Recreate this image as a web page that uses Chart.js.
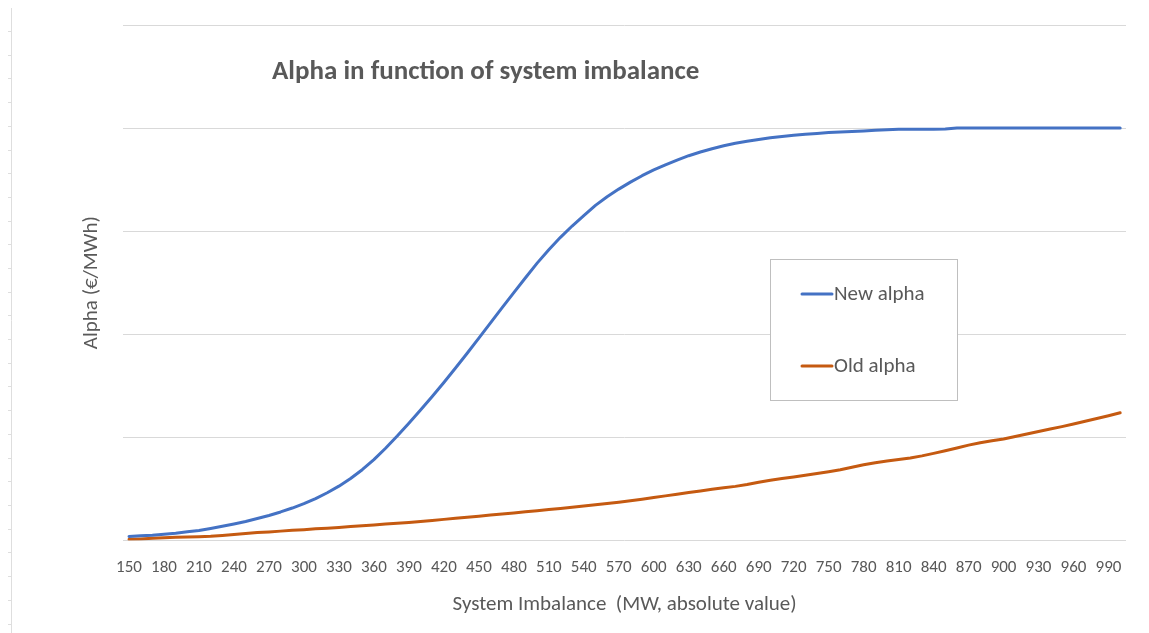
<!DOCTYPE html>
<html>
<head>
<meta charset="utf-8">
<script src="https://cdn.jsdelivr.net/npm/chart.js@4/dist/chart.umd.min.js"></script>
<style>
  html, body { margin: 0; padding: 0; background: #ffffff; }
  canvas { display: block; }
</style>
</head>
<body>
<canvas id="c" width="1149" height="633"></canvas>
<script>
// ---- data ----
const categories = [150,160,170,180,190,200,210,220,230,240,250,260,270,280,290,300,310,320,330,340,
  350,360,370,380,390,400,410,420,430,440,450,460,470,480,490,500,510,520,530,540,
  550,560,570,580,590,600,610,620,630,640,650,660,670,680,690,700,710,720,730,740,
  750,760,770,780,790,800,810,820,830,840,850,860,870,880,890,900,910,920,930,940,
  950,960,970,980,990,1000];

const tickLabels = [150,180,210,240,270,300,330,360,390,420,450,480,510,540,570,600,630,660,690,720,
  750,780,810,840,870,900,930,960,990];

const newAlpha = [1.9,2.2,2.5,3.0,3.5,4.2,4.8,5.8,6.9,8.0,9.2,10.6,12.1,13.8,15.7,17.8,20.3,23.1,26.3,30.0,
  34.3,39.2,44.7,50.6,56.8,63.2,69.8,76.6,83.6,90.8,98.1,105.5,112.9,120.2,127.4,134.5,141.0,147.0,152.5,157.5,
  162.5,166.7,170.4,173.8,176.9,179.7,182.2,184.5,186.6,188.4,190.0,191.4,192.6,193.6,194.5,195.3,195.9,196.5,197.0,197.4,
  197.8,198.1,198.4,198.6,198.9,199.2,199.4,199.4,199.4,199.4,199.5,200,200,200,200,200,200,200,200,200,
  200,200,200,200,200,200];

const oldAlpha = [0.5,0.7,1.0,1.3,1.5,1.6,1.8,2.0,2.4,2.9,3.4,3.8,4.1,4.5,4.9,5.2,5.6,5.9,6.3,6.7,
  7.1,7.5,7.9,8.3,8.7,9.2,9.7,10.2,10.7,11.2,11.7,12.3,12.8,13.3,13.9,14.4,15.0,15.5,16.1,16.7,
  17.3,17.9,18.5,19.2,20.0,20.8,21.6,22.4,23.2,24.0,24.8,25.5,26.2,27.1,28.2,29.2,30.0,30.8,31.6,32.4,
  33.3,34.3,35.5,36.7,37.7,38.5,39.2,40.0,41.0,42.2,43.5,44.8,46.2,47.4,48.3,49.2,50.4,51.6,52.8,54.0,
  55.2,56.5,57.8,59.1,60.5,61.9];

const seriesNames = ['New alpha', 'Old alpha'];
const chartTitle = 'Alpha in function of system imbalance';
const xTitle = 'System Imbalance  (MW, absolute value)';
const yTitle = 'Alpha (\u20AC/MWh)';

// ---- styling ----
const FONT = 'Carlito, Calibri, Lato, sans-serif';
const TEXT = '#595959';
const GRID = '#d9d9d9';
const BLUE = '#4472C4';
const ORANGE = '#C55A11';

const decorPlugin = {
  id: 'decor',
  beforeDraw(chart) {
    const ctx = chart.ctx;
    ctx.save();
    // faint page ruler at the left edge of the screenshot
    ctx.strokeStyle = '#dedede';
    ctx.lineWidth = 1;
    ctx.beginPath();
    ctx.moveTo(11.5, 8); ctx.lineTo(11.5, chart.height);
    for (let y = 31; y < chart.height; y += 23.7) {
      ctx.moveTo(8, Math.round(y) + 0.5); ctx.lineTo(11, Math.round(y) + 0.5);
    }
    ctx.stroke();
    ctx.restore();
  },
  afterDraw(chart) {
    const ctx = chart.ctx;
    const o = chart.options.plugins.decor;
    ctx.save();
    // title inside the plot
    ctx.fillStyle = TEXT;
    ctx.font = 'bold ' + o.titleSize + 'px ' + FONT;
    ctx.textBaseline = 'middle';
    ctx.textAlign = 'left';
    ctx.fillText(chartTitle, o.titleX, o.titleY);
    // legend box
    const b = o.legendBox;
    ctx.fillStyle = '#ffffff';
    ctx.fillRect(b.x, b.y, b.w, b.h);
    ctx.strokeStyle = '#bfbfbf';
    ctx.lineWidth = 1;
    ctx.strokeRect(b.x + 0.5, b.y + 0.5, b.w, b.h);
    ctx.font = o.legendSize + 'px ' + FONT;
    chart.data.datasets.forEach((ds, i) => {
      const y = b.y + b.firstRow + i * b.rowGap;
      ctx.strokeStyle = ds.borderColor;
      ctx.lineWidth = 3;
      ctx.lineCap = 'round';
      ctx.beginPath();
      ctx.moveTo(b.x + 32, y); ctx.lineTo(b.x + 62, y);
      ctx.stroke();
      ctx.fillStyle = TEXT;
      ctx.fillText(ds.label, b.x + 64, y + 1);
    });
    ctx.restore();
  }
};

new Chart(document.getElementById('c'), {
  type: 'line',
  data: {
    labels: categories,
    datasets: [
      { label: seriesNames[0], data: newAlpha, borderColor: BLUE, backgroundColor: BLUE,
        borderWidth: 3, pointRadius: 0, tension: 0, borderCapStyle: 'round', borderJoinStyle: 'round' },
      { label: seriesNames[1], data: oldAlpha, borderColor: ORANGE, backgroundColor: ORANGE,
        borderWidth: 3, pointRadius: 0, tension: 0, borderCapStyle: 'round', borderJoinStyle: 'round' }
    ]
  },
  options: {
    responsive: false,
    animation: false,
    layout: { padding: { left: 79, right: 23, top: 25, bottom: 16 } },
    plugins: {
      legend: { display: false },
      tooltip: { enabled: false },
      decor: {
        titleX: 272, titleY: 72, titleSize: 27, legendSize: 21,
        legendBox: { x: 770, y: 259, w: 187, h: 141, firstRow: 35, rowGap: 72 }
      }
    },
    scales: {
      x: {
        type: 'category',
        offset: true,
        grid: { display: false, drawTicks: false },
        border: { display: false },
        ticks: {
          autoSkip: false, maxRotation: 0, minRotation: 0, padding: 17,
          color: TEXT, font: { family: FONT, size: 17 },
          callback: function (v, i) {
            const c = categories[i];
            return tickLabels.includes(c) ? String(c) : '';
          }
        },
        title: { display: true, text: xTitle, color: TEXT, font: { family: FONT, size: 21 },
          padding: { top: -3, bottom: 0 } }
      },
      y: {
        min: 0, max: 250,
        grid: { color: GRID, lineWidth: 1, drawTicks: false },
        border: { display: false },
        ticks: { display: false, stepSize: 50 },
        title: { display: true, text: yTitle, color: TEXT, font: { family: FONT, size: 21 },
          padding: { top: 0, bottom: 19 } }
      }
    }
  },
  plugins: [decorPlugin]
});
</script>
</body>
</html>
